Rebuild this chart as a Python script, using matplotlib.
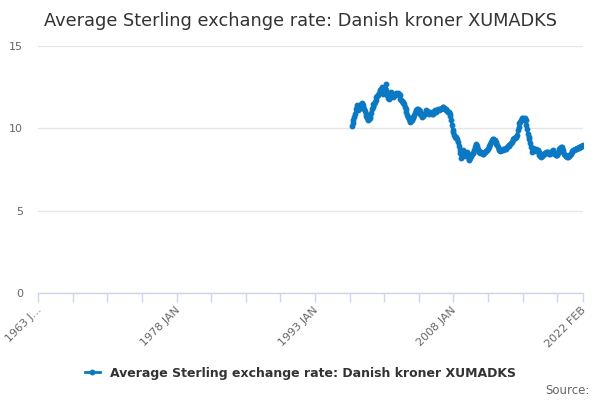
import matplotlib
matplotlib.use("Agg")
import matplotlib.pyplot as plt
from matplotlib.ticker import FixedLocator

# Monthly category axis: 1963 JAN .. 2022 FEB
months = ["JAN", "FEB", "MAR", "APR", "MAY", "JUN",
          "JUL", "AUG", "SEP", "OCT", "NOV", "DEC"]
categories = [f"{1963 + i // 12} {months[i % 12]}" for i in range(710)]

# Series starts at category index 408 (1997 JAN) and runs to 2022 FEB
series_start = 408
rates = [
    10.12, 10.3, 10.5, 10.7, 10.9, 11.2, 11.4, 11.2, 11.1, 11.2, 11.3, 11.35,
    11.45, 11.55, 11.4, 11.3, 11.2, 11.05, 10.9, 10.75, 10.6, 10.5, 10.55, 10.6,
    10.7, 10.95, 11.2, 11.3, 11.45, 11.5, 11.6, 11.75, 11.9, 11.95, 12.05, 12.15,
    12.2, 12.3, 12.4, 12.5, 12.35, 12.1, 12.25, 12.45, 12.67, 12.3, 12.0, 11.85,
    11.8, 11.95, 12.1, 12.2, 12.1, 12.0, 11.9, 11.95, 12.05, 12.1, 12.15, 12.1,
    12.15, 12.1, 12.0, 11.8, 11.75, 11.65, 11.6, 11.55, 11.45, 11.3, 11.2, 11.0,
    10.8, 10.7, 10.55, 10.4, 10.42, 10.45, 10.5, 10.6, 10.7, 10.8, 10.95, 11.05,
    11.1, 11.2, 11.15, 11.1, 11.05, 10.9, 10.8, 10.7, 10.75, 10.8, 10.85, 10.9,
    11.0, 11.1, 11.05, 11.0, 10.9, 10.95, 11.0, 10.95, 10.9, 10.85, 10.95, 11.05,
    11.1, 11.0, 11.05, 11.1, 11.15, 11.1, 11.15, 11.2, 11.2, 11.25, 11.3, 11.3,
    11.25, 11.2, 11.15, 11.1, 11.05, 11.0, 11.0, 10.9, 10.75, 10.5, 10.2, 9.9,
    9.8, 9.6, 9.5, 9.45, 9.4, 9.35, 9.2, 8.9, 8.7, 8.5, 8.2, 8.4,
    8.7, 8.65, 8.45, 8.3, 8.4, 8.5, 8.55, 8.35, 8.1, 8.15, 8.2, 8.35,
    8.45, 8.5, 8.5, 8.7, 8.85, 9.0, 9.07, 8.9, 8.75, 8.6, 8.56, 8.5,
    8.55, 8.5, 8.45, 8.47, 8.5, 8.55, 8.6, 8.65, 8.67, 8.75, 8.85, 8.95,
    9.05, 9.15, 9.3, 9.37, 9.35, 9.3, 9.27, 9.15, 9.05, 8.97, 8.85, 8.75,
    8.67, 8.65, 8.7, 8.68, 8.7, 8.72, 8.75, 8.77, 8.8, 8.77, 8.85, 8.9,
    8.95, 8.97, 9.05, 9.1, 9.2, 9.27, 9.33, 9.4, 9.43, 9.45, 9.5, 9.6,
    9.88, 10.1, 10.3, 10.4, 10.5, 10.6, 10.55, 10.6, 10.5, 10.6, 10.5, 10.2,
    9.95, 9.68, 9.5, 9.37, 9.1, 8.87, 8.56, 8.8, 8.75, 8.77, 8.7, 8.72,
    8.65, 8.68, 8.67, 8.55, 8.4, 8.3, 8.26, 8.35, 8.4, 8.47, 8.45, 8.5,
    8.55, 8.52, 8.56, 8.56, 8.5, 8.45, 8.47, 8.5, 8.6, 8.67, 8.6, 8.5,
    8.45, 8.4, 8.36, 8.36, 8.5, 8.65, 8.77, 8.8, 8.85, 8.87, 8.7, 8.55,
    8.47, 8.4, 8.3, 8.3, 8.26, 8.28, 8.32, 8.36, 8.4, 8.45, 8.55, 8.62,
    8.67, 8.7, 8.72, 8.75, 8.77, 8.78, 8.8, 8.82, 8.85, 8.87, 8.9, 8.92,
    8.95, 8.97,
]
x_idx = list(range(series_start, series_start + len(rates)))

label_idx = [0, 180, 360, 540, 709]
tick_labels = ["1963 J…", "1978 JAN", "1993 JAN", "2008 JAN", "2022 FEB"]
tick_idx = list(range(0, 709, 45)) + [709]
y_ticks = [0, 5, 10, 15]

series_name = "Average Sterling exchange rate: Danish kroner XUMADKS"
line_color = "#0a78c2"

plt.rcParams['font.family'] = ['DejaVu Sans']

fig = plt.figure(figsize=(6, 4), dpi=100)
ax = fig.add_axes([0.0638, 0.2675, 0.9083, 0.6175])

ax.plot(x_idx, rates, color=line_color, lw=2, marker="o", ms=3.2,
        mec=line_color, mfc=line_color, label=series_name)

ax.set_xlim(0, 709)
ax.set_ylim(0, 15)
ax.set_yticks(y_ticks)
ax.grid(axis="y", color="#e6e6e6", lw=1)
ax.set_axisbelow(True)

for s in ["top", "right", "left"]:
    ax.spines[s].set_visible(False)
ax.spines["bottom"].set_color("#ccd6eb")
ax.spines["bottom"].set_linewidth(1)

ax.xaxis.set_major_locator(FixedLocator(tick_idx))
ax.set_xticklabels(["" for _ in tick_idx])
ax.tick_params(axis="x", length=6.5, color="#ccd6eb", width=1)
ax.tick_params(axis="y", length=0, pad=11, labelsize=8, labelcolor="#666666")

for i, lab in zip(label_idx, tick_labels):
    ax.annotate(lab, xy=(i, 0), xycoords=("data", "axes fraction"),
                xytext=(-1.5, -8.5), textcoords="offset points",
                rotation=45, ha="right", va="top", rotation_mode="anchor",
                fontsize=8, color="#666666")

fig.text(0.5, 0.947, series_name, ha="center", va="center",
         fontsize=12.8, color="#333333")

leg = fig.legend(loc="center", bbox_to_anchor=(0.5, 0.067), frameon=False,
                 handlelength=1.2, prop={"weight": "bold", "size": 9})
for t in leg.get_texts():
    t.set_color("#333333")

fig.text(0.982, 0.025, "Source:", ha="right", va="center",
         fontsize=8.5, color="#666666")

fig.savefig("out.png", dpi=100)
